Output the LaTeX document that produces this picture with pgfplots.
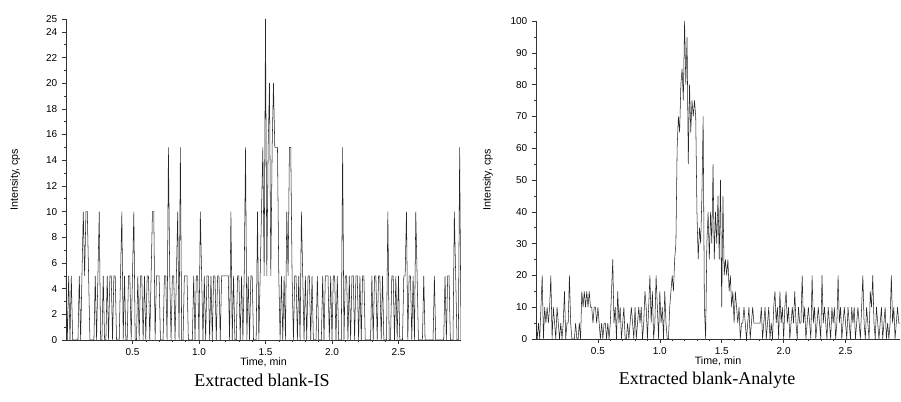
\documentclass[border=0pt]{standalone}
\usepackage{fontspec}
\setmainfont{Liberation Serif}
\newfontfamily\chartsans{Liberation Sans}
\usepackage{pgfplots}
\pgfplotsset{compat=1.18}

\pgfplotsset{
  chrom/.style={
    scale only axis,
    axis lines=left,
    axis line style={-, black!80, line width=0.5pt},
    tick align=outside,
    tick style={black!80, line width=0.4pt},
    major tick length=3pt,
    minor tick length=1.5pt,
    xtick={0.5,1.0,1.5,2.0,2.5},
    minor x tick num=4,
    xmin=0,
    ymin=0,
    x tick label style={/pgf/number format/.cd, fixed, fixed zerofill, precision=1},
    tick label style={font=\chartsans\fontsize{7.5}{8}\selectfont},
    /pgf/number format/assume math mode=true,
    label style={font=\chartsans\fontsize{8}{9}\selectfont},
    xlabel={Time, min},
    ylabel={Intensity, cps},
    xlabel style={at={(axis description cs:0.5,0)}, yshift=-16.5pt, anchor=center},
  },
  trace/.style={black!85, line width=0.4pt, sharp plot, mark=none},
}

\begin{document}
\begin{tikzpicture}
\useasboundingbox (0,0) rectangle (675.75pt,301.5pt);

\begin{axis}[chrom,
  at={(49.5pt,46.5pt)}, anchor=south west,
  width=296.25pt, height=240.75pt,
  xmax=2.97, ymax=25,
  ytick={0,2,4,6,8,10,12,14,16,18,20,22,24,25},
  minor ytick={1,3,5,7,9,11,13,15,17,19,21,23},
  ylabel style={at={(axis description cs:-0.129,0.5)}, anchor=center},
]
\addplot[trace] coordinates {
(0.00,5)(0.01,0)(0.02,5)(0.03,0)(0.04,5)(0.05,0)(0.06,0)(0.07,0)(0.08,0)(0.09,0)
(0.10,5)(0.11,0)(0.12,5)(0.13,10)(0.14,5)(0.15,10)(0.16,10)(0.17,5)(0.18,0)(0.19,0)
(0.20,0)(0.21,0)(0.22,5)(0.23,0)(0.24,5)(0.25,10)(0.26,0)(0.27,0)(0.28,5)(0.29,0)
(0.30,0)(0.31,5)(0.32,0)(0.33,5)(0.34,5)(0.35,0)(0.36,5)(0.37,5)(0.38,0)(0.39,0)
(0.40,0)(0.41,5)(0.42,10)(0.43,0)(0.44,5)(0.45,0)(0.46,0)(0.47,5)(0.48,5)(0.49,0)
(0.50,5)(0.51,10)(0.52,0)(0.53,0)(0.54,5)(0.55,0)(0.56,5)(0.57,5)(0.58,0)(0.59,5)
(0.60,0)(0.61,5)(0.62,5)(0.63,0)(0.64,5)(0.65,10)(0.66,10)(0.67,0)(0.68,5)(0.69,5)
(0.70,5)(0.71,0)(0.72,0)(0.73,0)(0.74,5)(0.75,5)(0.76,0)(0.77,15)(0.78,5)(0.79,0)
(0.80,5)(0.81,5)(0.82,0)(0.83,5)(0.84,10)(0.85,0)(0.86,15)(0.87,0)(0.88,0)(0.89,5)
(0.90,5)(0.91,5)(0.92,0)(0.93,0)(0.94,0)(0.95,0)(0.96,5)(0.97,0)(0.98,5)(0.99,5)
(1.00,0)(1.01,10)(1.02,5)(1.03,0)(1.04,5)(1.05,0)(1.06,5)(1.07,5)(1.08,0)(1.09,5)
(1.10,0)(1.11,5)(1.12,5)(1.13,0)(1.14,5)(1.15,5)(1.16,0)(1.17,5)(1.18,5)(1.19,5)
(1.20,5)(1.21,5)(1.22,5)(1.23,0)(1.24,10)(1.25,0)(1.26,5)(1.27,0)(1.28,0)(1.29,5)
(1.30,5)(1.31,0)(1.32,5)(1.33,0)(1.34,5)(1.35,15)(1.36,0)(1.37,5)(1.38,0)(1.39,5)
(1.40,5)(1.41,0)(1.42,0)(1.43,0)(1.44,10)(1.45,0)(1.46,5)(1.47,10)(1.48,15)(1.49,5)
(1.50,25)(1.51,5)(1.52,15)(1.53,20)(1.54,5)(1.55,15)(1.56,20)(1.57,15)(1.58,15)(1.59,15)
(1.60,5)(1.61,0)(1.62,5)(1.63,0)(1.64,5)(1.65,0)(1.66,10)(1.67,5)(1.68,15)(1.69,15)
(1.70,5)(1.71,0)(1.72,5)(1.73,5)(1.74,0)(1.75,5)(1.76,0)(1.77,10)(1.78,5)(1.79,0)
(1.80,5)(1.81,0)(1.82,5)(1.83,5)(1.84,0)(1.85,5)(1.86,0)(1.87,0)(1.88,0)(1.89,5)
(1.90,0)(1.91,0)(1.92,0)(1.93,5)(1.94,0)(1.95,5)(1.96,5)(1.97,5)(1.98,0)(1.99,5)
(2.00,0)(2.01,5)(2.02,5)(2.03,0)(2.04,5)(2.05,0)(2.06,0)(2.07,0)(2.08,15)(2.09,0)
(2.10,5)(2.11,5)(2.12,0)(2.13,5)(2.14,0)(2.15,5)(2.16,5)(2.17,0)(2.18,5)(2.19,5)
(2.20,0)(2.21,5)(2.22,0)(2.23,5)(2.24,5)(2.25,0)(2.26,0)(2.27,0)(2.28,0)(2.29,0)
(2.30,5)(2.31,0)(2.32,5)(2.33,5)(2.34,0)(2.35,5)(2.36,5)(2.37,0)(2.38,5)(2.39,0)
(2.40,0)(2.41,0)(2.42,10)(2.43,0)(2.44,0)(2.45,5)(2.46,5)(2.47,0)(2.48,5)(2.49,0)
(2.50,5)(2.51,0)(2.52,0)(2.53,0)(2.54,5)(2.55,5)(2.56,10)(2.57,0)(2.58,5)(2.59,5)
(2.60,0)(2.61,5)(2.62,0)(2.63,10)(2.64,5)(2.65,0)(2.66,0)(2.67,0)(2.68,0)(2.69,5)
(2.70,0)(2.71,0)(2.72,0)(2.73,0)(2.74,0)(2.75,0)(2.76,0)(2.77,5)(2.78,0)(2.79,0)
(2.80,0)(2.81,0)(2.82,0)(2.83,0)(2.84,0)(2.85,5)(2.86,0)(2.87,5)(2.88,5)(2.89,0)
(2.90,0)(2.91,0)(2.92,10)(2.93,5)(2.94,0)(2.95,0)(2.96,15)(2.97,0)
};
\end{axis}

\begin{axis}[chrom,
  at={(402pt,47.25pt)}, anchor=south west,
  width=273pt, height=238.5pt,
  xmax=2.94, ymax=100,
  ytick={0,10,...,100},
  minor y tick num=1,
  ylabel style={at={(axis description cs:-0.132,0.5)}, anchor=center},
]
\addplot[trace] coordinates {
(0.00,5)(0.01,0)(0.02,5)(0.03,0)(0.04,10)(0.05,20)(0.06,0)(0.07,10)(0.08,5)(0.09,10)
(0.10,5)(0.11,10)(0.12,20)(0.13,0)(0.14,10)(0.15,5)(0.16,0)(0.17,10)(0.18,5)(0.19,0)
(0.20,5)(0.21,0)(0.22,5)(0.23,15)(0.24,0)(0.25,5)(0.26,5)(0.27,20)(0.28,5)(0.29,0)
(0.30,0)(0.31,0)(0.32,5)(0.33,0)(0.34,0)(0.35,5)(0.36,0)(0.37,15)(0.38,10)(0.39,15)
(0.40,10)(0.41,15)(0.42,10)(0.43,15)(0.44,10)(0.45,10)(0.46,5)(0.47,10)(0.48,10)(0.49,5)
(0.50,10)(0.51,5)(0.52,0)(0.53,5)(0.54,0)(0.55,5)(0.56,5)(0.57,0)(0.58,5)(0.59,0)
(0.60,5)(0.61,15)(0.62,25)(0.63,5)(0.64,10)(0.65,0)(0.66,15)(0.67,5)(0.68,10)(0.69,0)
(0.70,5)(0.71,10)(0.72,0)(0.73,0)(0.74,5)(0.75,0)(0.76,5)(0.77,10)(0.78,5)(0.79,0)
(0.80,10)(0.81,0)(0.82,5)(0.83,10)(0.84,5)(0.85,10)(0.86,0)(0.87,5)(0.88,15)(0.89,10)
(0.90,0)(0.91,10)(0.92,20)(0.93,5)(0.94,15)(0.95,0)(0.96,5)(0.97,20)(0.98,10)(0.99,0)
(1.00,15)(1.01,5)(1.02,10)(1.03,0)(1.04,15)(1.05,5)(1.06,0)(1.07,0)(1.08,10)(1.09,15)
(1.10,20)(1.11,15)(1.12,25)(1.13,30)(1.14,60)(1.15,70)(1.16,65)(1.17,80)(1.18,85)(1.19,75)
(1.20,100)(1.21,80)(1.22,95)(1.23,55)(1.24,80)(1.25,65)(1.26,75)(1.27,70)(1.28,75)(1.29,70)
(1.30,40)(1.31,25)(1.32,35)(1.33,30)(1.34,45)(1.35,70)(1.36,10)(1.37,0)(1.38,30)(1.39,40)
(1.40,25)(1.41,40)(1.42,30)(1.43,55)(1.44,25)(1.45,40)(1.46,30)(1.47,45)(1.48,25)(1.49,50)
(1.50,10)(1.51,45)(1.52,20)(1.53,25)(1.54,20)(1.55,25)(1.56,15)(1.57,20)(1.58,10)(1.59,15)
(1.60,5)(1.61,15)(1.62,10)(1.63,5)(1.64,10)(1.65,0)(1.66,5)(1.67,5)(1.68,10)(1.69,5)
(1.70,0)(1.71,5)(1.72,10)(1.73,0)(1.74,5)(1.75,10)(1.76,5)(1.77,5)(1.78,5)(1.79,5)
(1.80,5)(1.81,5)(1.82,10)(1.83,0)(1.84,5)(1.85,10)(1.86,0)(1.87,5)(1.88,10)(1.89,0)
(1.90,5)(1.91,0)(1.92,10)(1.93,15)(1.94,5)(1.95,10)(1.96,0)(1.97,15)(1.98,5)(1.99,10)
(2.00,0)(2.01,10)(2.02,15)(2.03,5)(2.04,10)(2.05,0)(2.06,5)(2.07,10)(2.08,5)(2.09,15)
(2.10,5)(2.11,0)(2.12,10)(2.13,5)(2.14,5)(2.15,20)(2.16,5)(2.17,10)(2.18,0)(2.19,5)
(2.20,10)(2.21,5)(2.22,0)(2.23,20)(2.24,5)(2.25,10)(2.26,0)(2.27,5)(2.28,10)(2.29,5)
(2.30,0)(2.31,20)(2.32,5)(2.33,10)(2.34,5)(2.35,0)(2.36,10)(2.37,5)(2.38,0)(2.39,10)
(2.40,5)(2.41,10)(2.42,0)(2.43,5)(2.44,20)(2.45,5)(2.46,10)(2.47,0)(2.48,5)(2.49,10)
(2.50,5)(2.51,0)(2.52,10)(2.53,5)(2.54,0)(2.55,10)(2.56,5)(2.57,10)(2.58,0)(2.59,5)
(2.60,10)(2.61,5)(2.62,0)(2.63,10)(2.64,20)(2.65,5)(2.66,0)(2.67,10)(2.68,5)(2.69,0)
(2.70,15)(2.71,10)(2.72,20)(2.73,5)(2.74,0)(2.75,10)(2.76,5)(2.77,0)(2.78,5)(2.79,10)
(2.80,0)(2.81,5)(2.82,10)(2.83,0)(2.84,5)(2.85,0)(2.86,5)(2.87,20)(2.88,5)(2.89,10)
(2.90,0)(2.91,5)(2.92,10)(2.93,5)(2.94,5)
};
\end{axis}

\node[font=\fontsize{13.5}{16}\selectfont] at (196.5pt,16.5pt) {Extracted blank-IS};
\node[font=\fontsize{13.5}{16}\selectfont] at (530.25pt,16.5pt) {Extracted blank-Analyte};
\end{tikzpicture}
\end{document}
